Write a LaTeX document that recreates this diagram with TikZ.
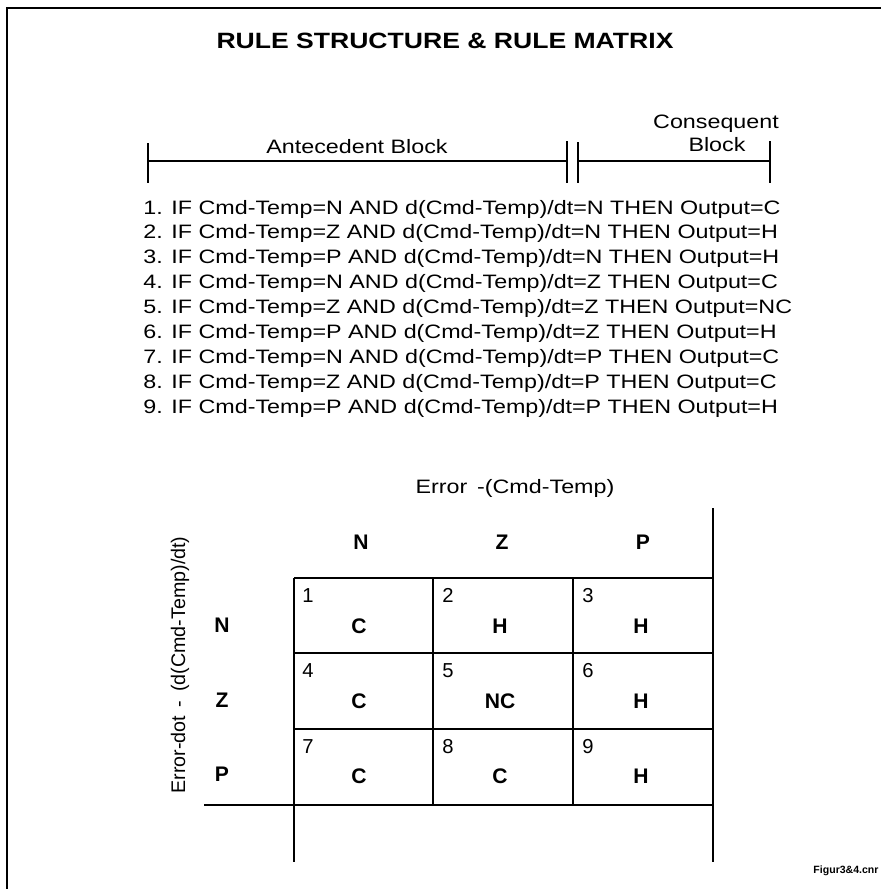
\documentclass[tikz,border=0pt]{standalone}
\usepackage{fontspec}
\setmainfont{Liberation Sans}
\newfontfamily\widefont{Liberation Sans}[FakeStretch=1.2]
\usetikzlibrary{positioning}

\tikzset{
  frameline/.style={line width=1.3pt},
  gridline/.style={line width=1pt},
  brace/.style={line width=0.8pt},
  titletext/.style={font=\widefont\bfseries\fontsize{12.6}{15}\selectfont},
  plain/.style={font=\widefont\fontsize{11.05}{13}\selectfont, inner sep=0pt},
  ruletext/.style={plain, anchor=base west},
  head/.style={font=\bfseries\fontsize{12}{14}\selectfont, inner sep=0pt},
  cellnum/.style={font=\fontsize{11.5}{13}\selectfont, anchor=north west, inner sep=0pt}
}

\begin{document}
\begin{tikzpicture}[x=0.02cm, y=-0.02cm]
	\useasboundingbox (0,0) rectangle (881,889);
	% frame
	\draw[frameline] (7,889) -- (7,8) -- (881,8);

	\node[titletext] (title) at (445,41) {RULE STRUCTURE \& RULE MATRIX};

	% block brackets
	\draw[brace] (148,143) -- (148,183);
	\draw[brace] (567,141) -- (567,183);
	\draw[brace] (148,161) -- (567,161);
	\draw[brace] (578,142) -- (578,183);
	\draw[brace] (770,141) -- (770,183);
	\draw[brace] (578,161) -- (770,161);
	\node[plain, anchor=base] (antlbl) at (357,153) {Antecedent Block};
	\node[plain, anchor=base] (conlbl) at (716,128) {Consequent};
	\node[plain, anchor=base] (blklbl) at (717,151) {Block};

	% rules
	\foreach \txt [count=\i] in {
		IF Cmd-Temp=N AND d(Cmd-Temp)/dt=N THEN Output=C,
		IF Cmd-Temp=Z AND d(Cmd-Temp)/dt=N THEN Output=H,
		IF Cmd-Temp=P AND d(Cmd-Temp)/dt=N THEN Output=H,
		IF Cmd-Temp=N AND d(Cmd-Temp)/dt=Z THEN Output=C,
		IF Cmd-Temp=Z AND d(Cmd-Temp)/dt=Z THEN Output=NC,
		IF Cmd-Temp=P AND d(Cmd-Temp)/dt=Z THEN Output=H,
		IF Cmd-Temp=N AND d(Cmd-Temp)/dt=P THEN Output=C,
		IF Cmd-Temp=Z AND d(Cmd-Temp)/dt=P THEN Output=C,
		IF Cmd-Temp=P AND d(Cmd-Temp)/dt=P THEN Output=H}
		\node[ruletext] (r\i) at (143,{214+(\i-1)*24.9}) {\i. \txt};

	% rule matrix
	\node[plain] (errlbl) at (515,488) {Error \,-(Cmd-Temp)};
	\node[font=\fontsize{11.2}{13}\selectfont, rotate=90, inner sep=0pt] (dotlbl) at (180,665) {Error-dot \,- \,(d(Cmd-Temp)/dt)};

	\draw[gridline] (713,508) -- (713,862);
	\draw[gridline] (294,578) -- (294,862);
	\draw[gridline] (433,578) -- (433,805);
	\draw[gridline] (573,578) -- (573,805);
	\foreach \yy in {578,653,729}
		\draw[gridline] (294,\yy) -- (713,\yy);
	\draw[gridline] (204,805) -- (713,805);

	\foreach \lab [count=\i from 0] in {N,Z,P} {
		\node[head] (col\lab) at ({361+141*\i},542) {\lab};
	}
	\node[head] (rowN) at (222,625) {N};
	\node[head] (rowZ) at (222,700) {Z};
	\node[head] (rowP) at (222,774) {P};

	\foreach \out [count=\k] in {C,H,H,C,NC,H,C,C,H} {
		\pgfmathtruncatemacro{\cc}{mod(\k-1,3)}
		\pgfmathtruncatemacro{\rr}{int((\k-1)/3)}
		\node[cellnum] (num\k) at ({302+140*\cc},{588+75.5*\rr}) {\k};
		\node[head] (cell\k) at ({359+141*\cc},{626+75*\rr}) {\out};
	}

	\node[font=\bfseries\fontsize{6}{8}\selectfont, inner sep=0pt] (figlbl) at (846,871) {Figur3\&4.cnr};
\end{tikzpicture}
\end{document}
